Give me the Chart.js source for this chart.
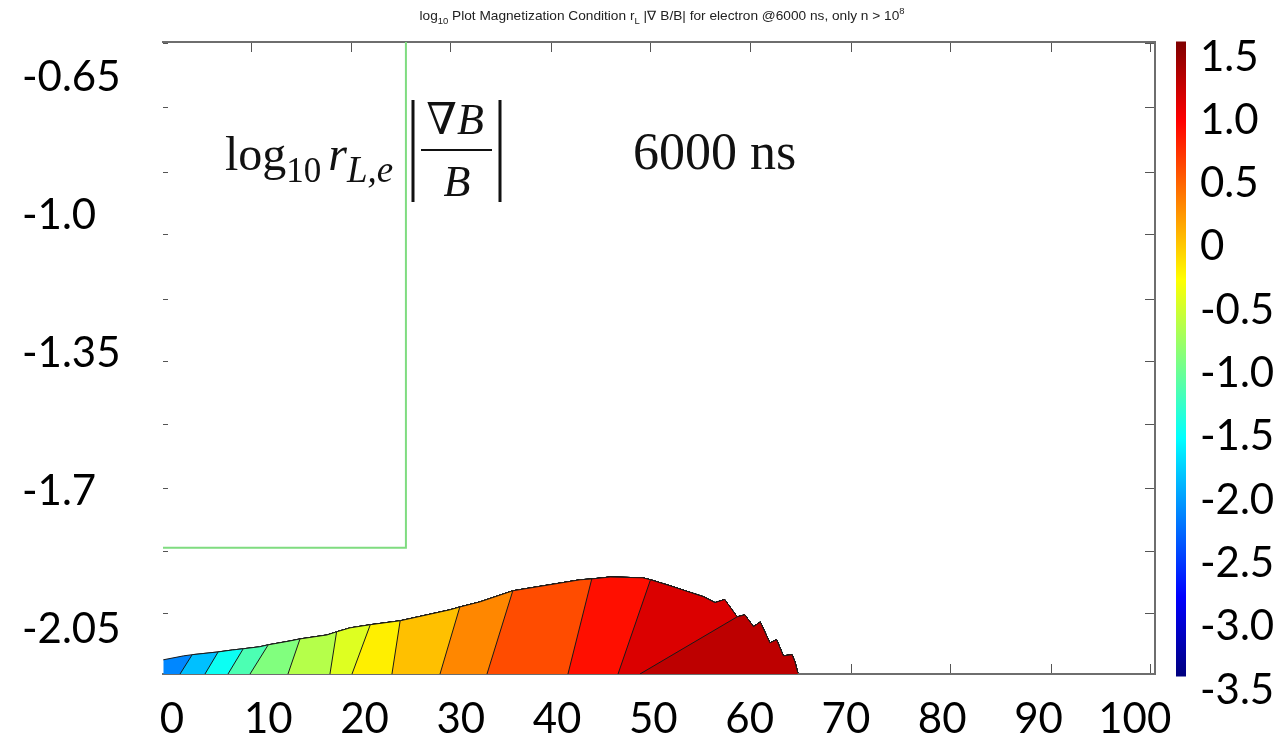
<!DOCTYPE html>
<html>
<head>
<meta charset="utf-8">
<title>log10 magnetization condition</title>
<script src="https://cdn.jsdelivr.net/npm/chart.js@4.4.1/dist/chart.umd.min.js"></script>
<style>
  html, body { margin: 0; padding: 0; background: #fff; }
  #wrap { position: relative; width: 1283px; height: 734px; background: #fff; overflow: hidden; }
  #wrap canvas { position: absolute; top: 0; }
  #mainChart { left: 0; }
  #cbChart { left: 1176px; }
</style>
</head>
<body>
<div id="wrap">
  <canvas id="mainChart" width="1283" height="734"></canvas>
  <canvas id="cbChart" width="107" height="734"></canvas>
</div>
<script>
// ── AXES ─────────────────────────────────────────────────────
const X_MIN = -0.93, X_MAX = 102.1;
const Y_MIN = -2.162, Y_MAX = -0.559;
const X_TICKS  = [0, 10, 20, 30, 40, 50, 60, 70, 80, 90, 100];
const Y_TICKS  = [-2.05, -1.7, -1.35, -1.0, -0.65];
const Y_LABELS = ['-2.05', '-1.7', '-1.35', '-1.0', '-0.65'];

// small inward tick marks of the plot frame
const FRAME_X_TICKS = [8.21, 18.6, 28.98, 39.37, 49.75, 60.14, 70.53, 80.91, 91.3, 101.68];
const FRAME_Y_TICKS = [-0.562, -0.726, -0.889, -1.048, -1.211, -1.37, -1.53, -1.692, -1.852, -2.009];

// colour scale (jet) and its labels
const CB_RANGE  = [-3.39, 1.62];
const CB_TICKS  = [-3.5, -3.0, -2.5, -2.0, -1.5, -1.0, -0.5, 0, 0.5, 1.0, 1.5];
const CB_LABELS = ['-3.5', '-3.0', '-2.5', '-2.0', '-1.5', '-1.0', '-0.5', '0', '0.5', '1.0', '1.5'];

// ── CONTOUR REGION ───────────────────────────────────────────
// upper edge of the n > 1e8 region
const ENV_X = [-0.9, 1.2, 2.1, 4.8, 6.3, 7.4, 9.1, 10.0, 12.3, 13.3, 16.1, 17.1, 18.5, 20.6,
               23.7, 28.9, 29.9, 32.0, 35.4, 42.4, 43.6, 45.5, 48.9, 49.7, 51.7, 55.2,
               56.4, 57.4, 58.7, 59.5, 60.4, 61.1, 62.1, 62.8, 63.5, 64.4, 64.7, 65.0];
const ENV_Y = [-2.126, -2.116, -2.113, -2.106, -2.101, -2.098, -2.093, -2.088, -2.078, -2.073,
               -2.063, -2.055, -2.045, -2.037, -2.027, -1.999, -1.992, -1.979, -1.951, -1.923,
               -1.921, -1.916, -1.918, -1.923, -1.938, -1.966,
               -1.981, -1.973, -2.017, -2.012, -2.042, -2.030, -2.083, -2.075, -2.116, -2.113,
               -2.131, -2.159];

// level of each filled band, left (blue) to right (dark red)
const BAND_LEVELS = [-2.1, -1.82, -1.45, -1.14, -0.88, -0.62, -0.42, -0.18, 0.05, 0.33, 0.62, 0.92, 1.17, 1.32];
// contour lines between bands: foot on the axis, head on the upper edge
const EDGE_FOOT_X = [0.84, 3.43, 5.82, 8.11, 12.05, 16.41, 18.7, 22.85, 27.84, 32.72, 41.13, 46.33, 48.61];
const EDGE_HEAD_X = [2.1, 4.8, 7.4, 10.0, 13.3, 17.1, 20.6, 23.7, 29.9, 35.4, 43.6, 49.7, 58.7];

// green boundary line
const BOX_X = [-0.93, 24.3, 24.3];
const BOX_Y = [-1.842, -1.842, -0.559];

// ── HELPERS ──────────────────────────────────────────────────
function jet(v) {
  const t = (v - CB_RANGE[0]) / (CB_RANGE[1] - CB_RANGE[0]);
  const c = x => Math.round(255 * Math.max(0, Math.min(1, x)));
  return `rgb(${c(1.5 - Math.abs(4 * t - 3))},${c(1.5 - Math.abs(4 * t - 2))},${c(1.5 - Math.abs(4 * t - 1))})`;
}

// no extra room for labels that hang over the chart edges
const noLabelPadding = s => { s.paddingTop = 0; s.paddingBottom = 0; s.paddingLeft = 0; s.paddingRight = 0; };

const envPoints = ENV_X.map((x, i) => ({ x, y: ENV_Y[i] }));

function bandPoints(k) {
  if (k === 0) return envPoints;
  const head = ENV_X.indexOf(EDGE_HEAD_X[k - 1]);
  return [{ x: EDGE_FOOT_X[k - 1], y: Y_MIN }, ...envPoints.slice(head)];
}

const bandSets = BAND_LEVELS.map((lvl, k) => ({
  label: 'level ' + lvl,
  data: bandPoints(k),
  backgroundColor: jet(lvl),
  borderColor: '#1a1a1a',
  borderWidth: 1,
  pointRadius: 0,
  tension: 0,
  fill: 'start',
  order: BAND_LEVELS.length - k + 1,
}));

// ── TEXT OVERLAYS ────────────────────────────────────────────
const titleParts = [
  ['log', 'n'], ['10', 'sub'], [' Plot Magnetization Condition r', 'n'], ['L', 'sub'],
  [' |\u2207 B/B| for electron @6000 ns, only n > 10', 'n'], ['8', 'sup'],
];

const overlayPlugin = {
  id: 'overlay',
  afterDraw(chart) {
    const ctx = chart.ctx;
    ctx.save();
    ctx.fillStyle = '#222';
    ctx.textBaseline = 'alphabetic';

    // small title, squeezed to width
    const fonts = { n: '13px "Liberation Sans"', sub: '9px "Liberation Sans"', sup: '9px "Liberation Sans"' };
    const dy = { n: 0, sub: 4, sup: -6 };
    let w = 0;
    titleParts.forEach(([s, m]) => { ctx.font = fonts[m]; w += ctx.measureText(s).width; });
    const tw = 485;
    ctx.save();
    ctx.translate(662 - tw / 2, 20);
    ctx.scale(tw / w, 1);
    let x = 0;
    titleParts.forEach(([s, m]) => {
      ctx.font = fonts[m];
      ctx.fillText(s, x, dy[m]);
      x += ctx.measureText(s).width;
    });
    ctx.restore();

    // formula
    ctx.fillStyle = '#111';
    const serif = '"Liberation Serif", "DejaVu Serif", serif';
    let fx = 225;
    const put = (s, font, y) => { ctx.font = font; ctx.fillText(s, fx, y); fx += ctx.measureText(s).width; };
    put('log', '48px ' + serif, 170);
    put('10', '35px ' + serif, 182);
    fx += 7;
    put('r', 'italic 48px ' + serif, 170);
    put('L,e', 'italic 37px ' + serif, 182);

    ctx.strokeStyle = '#111';
    ctx.lineWidth = 3;
    ctx.beginPath();
    ctx.moveTo(413, 100); ctx.lineTo(413, 202);
    ctx.moveTo(500, 100); ctx.lineTo(500, 202);
    ctx.stroke();
    ctx.lineWidth = 2;
    ctx.beginPath();
    ctx.moveTo(421, 150); ctx.lineTo(492, 150);
    ctx.stroke();

    ctx.textAlign = 'center';
    ctx.font = 'italic 44px ' + serif;
    ctx.fillText('\u2207B', 455, 134);
    ctx.fillText('B', 457, 196);

    ctx.textAlign = 'left';
    ctx.font = '52px ' + serif;
    ctx.fillText('6000 ns', 633, 169);
    ctx.restore();
  }
};

// ── MAIN PLOT ────────────────────────────────────────────────
const tickFont = { family: 'Lato, "Open Sans", sans-serif', size: 42 };
const frameColor = '#6e6e6e';

// zero-size axis that only carries the frame's inward tick marks
function frameAxis(position, ticks, len, withBorder) {
  const horizontal = position === 'top' || position === 'bottom';
  return {
    type: 'linear',
    position,
    weight: -1,
    min: horizontal ? X_MIN : Y_MIN,
    max: horizontal ? X_MAX : Y_MAX,
    afterBuildTicks: s => { s.ticks = ticks.map(v => ({ value: v })); },
    afterFit: s => { if (horizontal) s.height = 0; else s.width = 0; noLabelPadding(s); },
    grid: { display: true, drawOnChartArea: false, drawTicks: true, tickLength: -len, color: '#555', lineWidth: 1 },
    ticks: { display: false },
    border: { display: withBorder, color: frameColor, width: 2 },
  };
}

new Chart(document.getElementById('mainChart'), {
  type: 'line',
  data: {
    datasets: [
      ...bandSets,
      {
        label: 'box',
        data: BOX_X.map((x, i) => ({ x, y: BOX_Y[i] })),
        borderColor: '#7fdc80',
        borderWidth: 2,
        pointRadius: 0,
        tension: 0,
        fill: false,
        order: 0,
      },
    ]
  },
  options: {
    responsive: false,
    animation: false,
    events: [],
    layout: { padding: { left: 22, top: 42, right: 128, bottom: 0 } },
    plugins: { legend: { display: false }, tooltip: { enabled: false }, title: { display: false } },
    scales: {
      x: {
        type: 'linear',
        min: X_MIN, max: X_MAX,
        afterBuildTicks: s => { s.ticks = X_TICKS.map(v => ({ value: v })); },
        afterFit: s => { s.height = 60; noLabelPadding(s); },
        grid: { display: false },
        border: { display: true, color: frameColor, width: 2 },
        ticks: { color: '#000', font: tickFont, padding: 12, maxRotation: 0, autoSkip: false },
      },
      y: {
        type: 'linear',
        min: Y_MIN, max: Y_MAX,
        afterBuildTicks: s => { s.ticks = Y_TICKS.map(v => ({ value: v })); },
        afterFit: s => { s.width = 141; noLabelPadding(s); },
        grid: { display: false },
        border: { display: false },
        ticks: {
          color: '#000', font: tickFont, crossAlign: 'far', autoSkip: false,
          callback: (v, i) => Y_LABELS[i],
        },
      },
      xTop:    frameAxis('top', FRAME_X_TICKS, 10, true),
      xBottom: frameAxis('bottom', FRAME_X_TICKS, 10, false),
      yLeft:   frameAxis('left', FRAME_Y_TICKS, 5, false),
      yRight:  frameAxis('right', FRAME_Y_TICKS, 10, true),
    }
  },
  plugins: [overlayPlugin],
});

// ── COLOUR BAR ───────────────────────────────────────────────
const JET_STOPS = [[0, '#00007f'], [0.125, '#0000ff'], [0.375, '#00ffff'], [0.625, '#ffff00'], [0.875, '#ff0000'], [1, '#7f0000']];

new Chart(document.getElementById('cbChart'), {
  type: 'bar',
  data: {
    labels: [''],
    datasets: [{
      data: [CB_RANGE],
      barPercentage: 1,
      categoryPercentage: 1,
      borderWidth: 0,
      backgroundColor: ctx => {
        const c = ctx.chart;
        if (!c.chartArea) return '#000';
        const ys = c.scales.y;
        const g = c.ctx.createLinearGradient(0, ys.getPixelForValue(CB_RANGE[0]), 0, ys.getPixelForValue(CB_RANGE[1]));
        JET_STOPS.forEach(([t, col]) => g.addColorStop(t, col));
        return g;
      },
    }]
  },
  options: {
    responsive: false,
    animation: false,
    events: [],
    layout: { padding: { left: 0, top: 19, right: 0, bottom: 6 } },
    plugins: { legend: { display: false }, tooltip: { enabled: false } },
    scales: {
      x: { display: false },
      y: {
        position: 'right',
        min: -3.8, max: 1.8,
        afterBuildTicks: s => { s.ticks = CB_TICKS.map(v => ({ value: v })); },
        afterFit: s => { s.width = 97; noLabelPadding(s); },
        grid: { display: false },
        border: { display: false },
        ticks: {
          color: '#000', font: tickFont, padding: 6, autoSkip: false,
          callback: (v, i) => CB_LABELS[i],
        },
      }
    }
  }
});
</script>
</body>
</html>
